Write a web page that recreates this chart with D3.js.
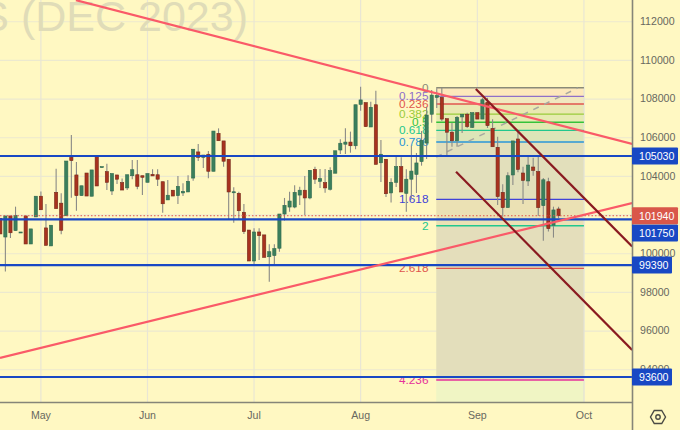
<!DOCTYPE html>
<html>
<head>
<meta charset="utf-8">
<script src="https://cdn.jsdelivr.net/npm/d3@7/dist/d3.min.js"></script>
<style>
html,body{margin:0;padding:0;background:#fff8c2;}
svg{display:block;}
text{font-family:"Liberation Sans",Arial,sans-serif;}
</style>
</head>
<body>
<svg id="chart" width="680" height="430"></svg>
<script>
const opens=[101810,100840,101930,101170,101050,101930,100480,101880,102950,101310,100380,103150,102590,101940,104960,104050,102980,104150,102950,105000,104430,104220,103220,104050,103650,103380,104010,104060,104010,103670,104080,104060,103700,102760,103260,102980,103120,103170,103890,105240,104960,105120,104240,106200,105810,104860,103130,103100,102120,101200,99600,101100,100950,99820,99880,100260,102030,102390,102390,103010,103260,102860,104340,103720,103650,103310,104140,105340,105640,105750,105560,107700,107790,106530,107680,104680,104860,103120,103670,104480,103100,103830,104080,104740,105700,107190,108060,108060,106960,106260,105820,107050,107190,106510,107270,106940,107810,106460,105480,103150,102360,104050,105910,104150,103740,104460,104220,102460,103700,101450,102290];
const highs=[101810,101930,101930,102410,101100,101930,101260,102950,103200,102550,101450,104370,103100,104770,106120,104720,103490,104150,104310,105000,104480,104630,104120,104050,103860,104060,104820,104820,104010,104120,104340,104340,103700,103790,103260,104000,103620,104030,105380,105650,105080,105290,106320,106460,105810,104860,103410,103180,102550,101200,101290,101290,100950,100470,100470,102030,102860,103180,103520,103440,104000,104290,104480,104360,104360,104450,105300,105890,106460,106290,107680,108610,107790,107840,108410,105860,104860,103880,105030,104960,104340,105560,105190,106320,107580,108440,108530,108560,106960,106750,107100,107190,107270,107270,107270,108040,108040,106930,106030,103570,104190,105810,106290,104480,105000,104940,105080,103890,103910,102410,102410];
const lows=[101000,99050,100790,101170,101050,100480,100480,101880,102250,100410,100380,102310,100980,101940,102870,102200,102980,102960,102950,103480,104430,103270,103010,103580,103270,103270,103830,103310,103010,103670,104000,103480,102100,102760,102960,102550,102960,103170,103750,104770,104410,103880,104240,105820,104480,101720,101580,101720,101000,99600,99430,99650,99790,98530,99390,100080,101690,102150,102330,102500,101980,102790,103580,103380,103130,103240,104140,105130,105130,105200,105380,107370,106530,106530,104600,103690,102910,102620,103430,103170,102150,102860,103120,104530,104880,106750,107510,106840,105080,105510,105510,106220,106480,106480,106940,106940,106480,105510,102500,101890,102360,103530,104190,102550,103480,104010,101930,100650,101120,100810,101810];
const closes=[101000,101930,101060,101960,101100,100480,101260,102950,102250,100410,101450,102310,101190,104770,104790,102980,103490,102960,104310,103480,104480,103670,104120,103830,103270,104060,104320,103460,103930,104120,104000,103830,102560,103000,102960,103460,103200,103720,105380,104960,105080,104240,106320,105820,104760,103170,103180,102200,101120,99600,101100,100910,99790,100080,100240,102030,102480,102700,103150,103260,102860,104290,103830,103860,103380,104270,105300,105690,105750,105560,107680,107930,106550,107550,104600,105120,103080,103670,104480,103170,103830,104250,104670,105840,107150,108180,108150,106940,106260,105820,107030,107190,106550,107270,106940,107940,106600,105510,102930,102360,104010,105810,104340,103770,104560,104290,102360,103800,101270,102240,101940];

const priceTicks=[112000,110000,108000,106000,104000,102000,100000,98000,96000,94000];
const monthLabels=["May","Jun","Jul","Aug","Sep","Oct"];
const monthBars=[8,29,50,71,94,115];

const horizontalLevels=[105030,101750,99390,93600];
const lastPrice=101940;

const fibLabels=["0","0.125","0.236","0.382","0.5","0.618","0.786","1.618","2","2.618","4.236"];
const fibRatios=[0,0.125,0.236,0.382,0.5,0.618,0.786,1.618,2,2.618,4.236];
const fibColors=["#8a8a78","#8f6fc8","#e0564e","#9acb3a","#35c23a","#22c78e","#2a96d8","#3f42d8","#22c78e","#e0564e","#e6309a"];
const fibFills=["#fde8bb","#f1e8c0","#eae8b2","#e6ebb0","#e1e9b1","#dde5b8","#e2dfbb","#ebe1b4","#e4debb","#e3debb"];
const fibHigh=108560, fibUnit=3568, fibStartBar=85.9, fibEndBar=115;
const fibExtraFill="#f0f5c4";

const redLines=[[[14.9,113090],[124.5,105650]],[[-0.06,94590],[124.5,102600]]];
const darkLines=[[[93.7,108500],[124.5,100350]],[[89.8,104220],[124.5,95000]]];
const dashedLine=[[85.9,104980],[113.8,108550]];

const W=680,H=430,plotW=632,plotH=402;
const x=d3.scaleLinear().domain([0,100]).range([0.3,507.8]);
const y=d3.scaleLinear().domain([93600,105030]).range([377,156]);

const svg=d3.select("#chart");
const defs=svg.append("defs");
defs.append("clipPath").attr("id","plot").append("rect").attr("width",plotW).attr("height",plotH);
const plot=svg.append("g").attr("clip-path","url(#plot)");

plot.append("rect").attr("width",plotW).attr("height",plotH).attr("fill","#fff8c2");

// grid
plot.selectAll(".hg").data(priceTicks).join("line")
  .attr("x1",0).attr("x2",plotW).attr("y1",d=>y(d)+.5).attr("y2",d=>y(d)+.5)
  .attr("stroke","#ece9cf").attr("stroke-width",1.2);
plot.selectAll(".vg").data(monthBars).join("line")
  .attr("x1",d=>x(d)).attr("x2",d=>x(d)).attr("y1",0).attr("y2",plotH)
  .attr("stroke","#e9e6d4").attr("stroke-width",1.2);

// watermark
plot.append("text").attr("x",248).attr("y",31).attr("text-anchor","end")
  .attr("font-size",43).attr("fill","#e0dcb8").text("S (DEC 2023)");

// fib bands
const fibPrice=r=>fibHigh-fibUnit*r;
const fx0=x(fibStartBar),fx1=x(fibEndBar);
plot.selectAll(".fb").data(fibFills).join("rect")
  .attr("x",fx0).attr("width",fx1-fx0)
  .attr("y",(d,i)=>y(fibPrice(fibRatios[i])))
  .attr("height",(d,i)=>y(fibPrice(fibRatios[i+1]))-y(fibPrice(fibRatios[i])))
  .attr("fill",d=>d);
plot.append("rect").attr("x",fx0).attr("width",fx1-fx0)
  .attr("y",y(fibPrice(4.236))).attr("height",plotH-y(fibPrice(4.236))).attr("fill",fibExtraFill);
plot.append("line").attr("x1",fx1).attr("x2",fx1).attr("y1",y(fibHigh)).attr("y2",plotH)
  .attr("stroke","#e2e2d6").attr("stroke-width",1);

plot.selectAll(".fl").data(fibRatios).join("line")
  .attr("x1",fx0).attr("x2",fx1)
  .attr("y1",d=>y(fibPrice(d))).attr("y2",d=>y(fibPrice(d)))
  .attr("stroke",(d,i)=>fibColors[i]).attr("stroke-width",1.4);
plot.selectAll(".ft").data(fibRatios).join("text")
  .attr("x",428.5).attr("y",d=>y(fibPrice(d))+4)
  .attr("text-anchor","end").attr("font-size",11.8)
  .attr("fill",(d,i)=>fibColors[i])
  .text((d,i)=>fibLabels[i]);

// dashed channel midline
const ln=d3.line().x(d=>x(d[0])).y(d=>y(d[1]));
plot.append("path").attr("d",ln(dashedLine)).attr("fill","none")
  .attr("stroke","#a8a8a0").attr("stroke-width",1.5).attr("stroke-dasharray","6 6");

// candles
const bars=d3.range(opens.length);
plot.selectAll(".wick").data(bars).join("line")
  .attr("x1",i=>x(i)).attr("x2",i=>x(i))
  .attr("y1",i=>y(highs[i])).attr("y2",i=>y(lows[i]))
  .attr("stroke","#8a8a86").attr("stroke-width",1.1);
plot.selectAll(".body").data(bars).join("rect")
  .attr("x",i=>x(i)-1.6).attr("width",3.2)
  .attr("y",i=>y(Math.max(opens[i],closes[i])))
  .attr("height",i=>Math.max(1,Math.abs(y(opens[i])-y(closes[i]))))
  .attr("fill",i=>closes[i]>=opens[i]?"#3b7f5c":"#a8321f")
  .attr("stroke",i=>closes[i]>=opens[i]?"#2f6a50":"#74281a").attr("stroke-width",.6);

// last price dotted
plot.append("line").attr("x1",0).attr("x2",plotW).attr("y1",y(lastPrice)).attr("y2",y(lastPrice))
  .attr("stroke","#e0564e").attr("stroke-width",1).attr("stroke-dasharray","1.5 2");

// horizontal levels
plot.selectAll(".lvl").data(horizontalLevels).join("line")
  .attr("x1",0).attr("x2",plotW).attr("y1",d=>y(d)).attr("y2",d=>y(d))
  .attr("stroke","#1848c4").attr("stroke-width",2.2);

// trend lines
plot.selectAll(".red").data(redLines).join("path").attr("d",ln).attr("fill","none")
  .attr("stroke","#fa5a68").attr("stroke-width",2.2);
plot.selectAll(".dark").data(darkLines).join("path").attr("d",ln).attr("fill","none")
  .attr("stroke","#8a1a20").attr("stroke-width",2.2);

// axes panels
svg.append("line").attr("x1",plotW+.5).attr("x2",plotW+.5).attr("y1",0).attr("y2",H).attr("stroke","#858578").attr("stroke-width",1.6);
svg.append("line").attr("x1",0).attr("x2",plotW).attr("y1",plotH+.5).attr("y2",plotH+.5).attr("stroke","#858578").attr("stroke-width",1.6);

svg.selectAll(".yt").data(priceTicks).join("text")
  .attr("x",640).attr("y",d=>y(d)+3.8).attr("font-size",10.6).attr("fill","#68685f").text(d=>d);
svg.selectAll(".xt").data(monthBars).join("text")
  .attr("x",d=>x(d)).attr("y",418.7).attr("text-anchor","middle").attr("font-size",10.6)
  .attr("fill","#68685f").text((d,i)=>monthLabels[i]);

// price tags
const tags=[
  {v:105030,c:"#1848c4",dy:0},
  {v:99390,c:"#1848c4",dy:0},
  {v:93600,c:"#1848c4",dy:0},
  {v:101750,c:"#1848c4",dy:13.5},
  {v:101940,c:"#d9574a",dy:0}
];
const tg=svg.selectAll(".tag").data(tags).join("g")
  .attr("transform",d=>`translate(632,${y(d.v)+d.dy})`);
tg.append("rect").attr("x",0).attr("y",-8.5).attr("width",d=>String(d.v).length===6?46:40).attr("height",17).attr("rx",1).attr("fill",d=>d.c);
tg.append("text").attr("x",7).attr("y",3.8).attr("font-size",10.6).attr("fill","#fff").text(d=>d.v);

// settings icon
const hexAngles=[30,90,150,210,270,330];
const hex=d3.lineRadial().angle(a=>a*Math.PI/180).radius(7.5).curve(d3.curveLinearClosed);
const gear=svg.append("g").attr("transform","translate(658,417)");
gear.append("path").attr("d",hex(hexAngles)).attr("fill","none").attr("stroke","#4a4a44").attr("stroke-width",1.4);
gear.append("circle").attr("r",2.2).attr("fill","none").attr("stroke","#4a4a44").attr("stroke-width",1.4);
</script>
</body>
</html>
